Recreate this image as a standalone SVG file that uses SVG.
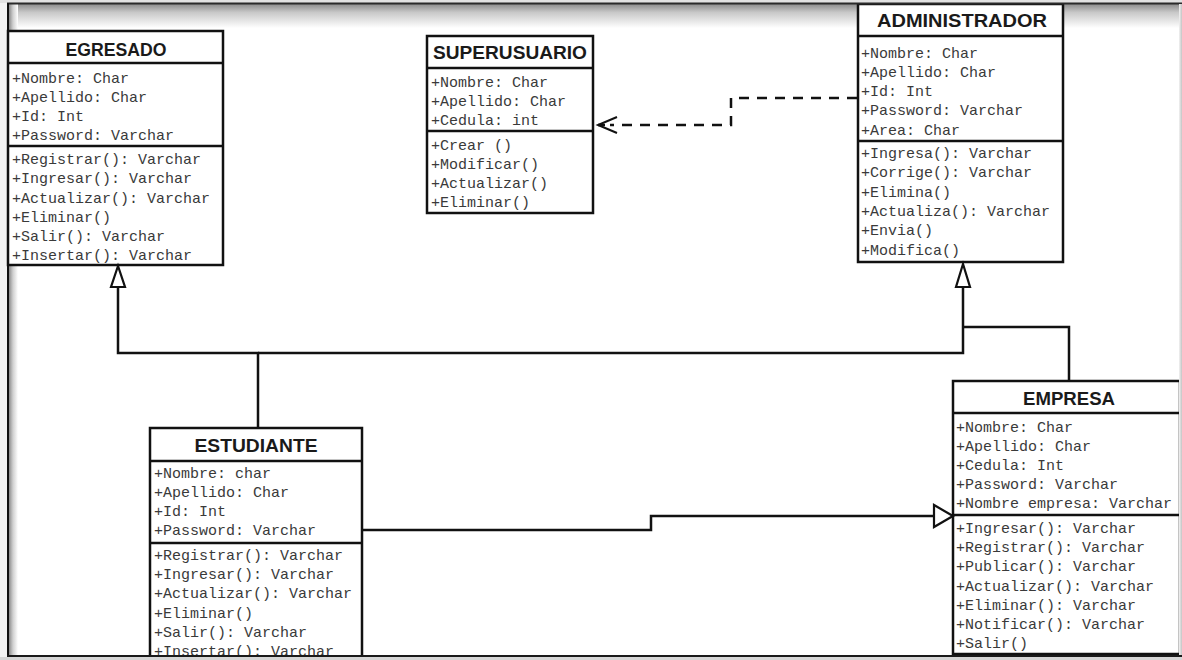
<svg xmlns="http://www.w3.org/2000/svg" width="1182" height="660" viewBox="0 0 1182 660">
  <defs>
    <style>
      .box { fill: #ffffff; stroke: #111111; stroke-width: 2.5; }
      .sep { stroke: #111111; stroke-width: 2.5; }
      .title { font-family: "Liberation Sans", Arial, sans-serif; font-weight: bold; font-size: 18px; fill: #1a1a1a; text-anchor: middle; }
      .m { font-family: "Liberation Mono", "Courier New", monospace; font-size: 15px; fill: #3a3a3a; }
      .line { fill: none; stroke: #111111; stroke-width: 2.5; }
      .dash { stroke-dasharray: 10 8; }
      .tri { fill: #ffffff; stroke: #111111; stroke-width: 2.2; stroke-linejoin: miter; }
    </style>
    <linearGradient id="shadeTop" x1="0" y1="0" x2="0" y2="1">
      <stop offset="0" stop-color="#8c8c8c"/>
      <stop offset="0.35" stop-color="#c8c8c8"/>
      <stop offset="1" stop-color="#ffffff"/>
    </linearGradient>
    <linearGradient id="shadeLeft" x1="0" y1="0" x2="1" y2="0">
      <stop offset="0" stop-color="#7a7a7a"/>
      <stop offset="0.5" stop-color="#d0d0d0"/>
      <stop offset="1" stop-color="#ffffff"/>
    </linearGradient>
    <linearGradient id="shadeRight" x1="0" y1="0" x2="1" y2="0">
      <stop offset="0" stop-color="#f2f2f2"/>
      <stop offset="1" stop-color="#c4c4c4"/>
    </linearGradient>
  </defs>

  <!-- canvas and inner window shading -->
  <rect x="0" y="0" width="1182" height="660" fill="#ffffff"/>
  <rect x="0" y="0" width="8" height="660" fill="#f3f3f3"/>
  <rect x="8" y="4" width="1172" height="24" fill="url(#shadeTop)"/>
  <rect x="8" y="4" width="10" height="652" fill="url(#shadeLeft)"/>

  <!-- class EGRESADO -->
  <g id="egresado">
    <rect class="box" x="8" y="31" width="215" height="234"/>
    <line class="sep" x1="8" y1="63" x2="223" y2="63"/>
    <line class="sep" x1="8" y1="146" x2="223" y2="146"/>
    <text class="title" x="116" y="56" textLength="101" lengthAdjust="spacingAndGlyphs">EGRESADO</text>
    <text class="m" x="12" y="83">+Nombre: Char</text>
    <text class="m" x="12" y="102">+Apellido: Char</text>
    <text class="m" x="12" y="121">+Id: Int</text>
    <text class="m" x="12" y="140">+Password: Varchar</text>
    <text class="m" x="12" y="164">+Registrar(): Varchar</text>
    <text class="m" x="12" y="183">+Ingresar(): Varchar</text>
    <text class="m" x="12" y="202.5">+Actualizar(): Varchar</text>
    <text class="m" x="12" y="221.5">+Eliminar()</text>
    <text class="m" x="12" y="241">+Salir(): Varchar</text>
    <text class="m" x="12" y="260">+Insertar(): Varchar</text>
  </g>

  <!-- class SUPERUSUARIO -->
  <g id="superusuario">
    <rect class="box" x="427" y="36" width="166" height="177"/>
    <line class="sep" x1="427" y1="68" x2="593" y2="68"/>
    <line class="sep" x1="427" y1="131" x2="593" y2="131"/>
    <text class="title" x="510" y="59" textLength="154" lengthAdjust="spacingAndGlyphs">SUPERUSUARIO</text>
    <text class="m" x="431" y="87">+Nombre: Char</text>
    <text class="m" x="431" y="106">+Apellido: Char</text>
    <text class="m" x="431" y="125">+Cedula: int</text>
    <text class="m" x="431" y="150">+Crear ()</text>
    <text class="m" x="431" y="169">+Modificar()</text>
    <text class="m" x="431" y="188">+Actualizar()</text>
    <text class="m" x="431" y="207">+Eliminar()</text>
  </g>

  <!-- class ADMINISTRADOR -->
  <g id="administrador">
    <rect class="box" x="858" y="4" width="205" height="258"/>
    <line class="sep" x1="858" y1="36" x2="1063" y2="36"/>
    <line class="sep" x1="858" y1="141" x2="1063" y2="141"/>
    <text class="title" x="962" y="27" textLength="170" lengthAdjust="spacingAndGlyphs">ADMINISTRADOR</text>
    <text class="m" x="861" y="57.5">+Nombre: Char</text>
    <text class="m" x="861" y="76.5">+Apellido: Char</text>
    <text class="m" x="861" y="96">+Id: Int</text>
    <text class="m" x="861" y="115">+Password: Varchar</text>
    <text class="m" x="861" y="134.5">+Area: Char</text>
    <text class="m" x="861" y="158">+Ingresa(): Varchar</text>
    <text class="m" x="861" y="177">+Corrige(): Varchar</text>
    <text class="m" x="861" y="196.5">+Elimina()</text>
    <text class="m" x="861" y="215.5">+Actualiza(): Varchar</text>
    <text class="m" x="861" y="235">+Envia()</text>
    <text class="m" x="861" y="254.5">+Modifica()</text>
  </g>

  <!-- class ESTUDIANTE (runs past the lower edge of the sheet) -->
  <g id="estudiante">
    <rect class="box" x="150" y="428" width="212" height="250"/>
    <line class="sep" x1="150" y1="461" x2="362" y2="461"/>
    <line class="sep" x1="150" y1="543" x2="362" y2="543"/>
    <text class="title" x="256" y="452" textLength="123" lengthAdjust="spacingAndGlyphs">ESTUDIANTE</text>
    <text class="m" x="154" y="478">+Nombre: char</text>
    <text class="m" x="154" y="497">+Apellido: Char</text>
    <text class="m" x="154" y="516">+Id: Int</text>
    <text class="m" x="154" y="535">+Password: Varchar</text>
    <text class="m" x="154" y="560">+Registrar(): Varchar</text>
    <text class="m" x="154" y="579">+Ingresar(): Varchar</text>
    <text class="m" x="154" y="598">+Actualizar(): Varchar</text>
    <text class="m" x="154" y="617.5">+Eliminar()</text>
    <text class="m" x="154" y="636.5">+Salir(): Varchar</text>
    <text class="m" x="154" y="655.5">+Insertar(): Varchar</text>
  </g>

  <!-- class EMPRESA -->
  <g id="empresa">
    <rect class="box" x="953" y="381" width="227" height="273"/>
    <line class="sep" x1="953" y1="413" x2="1180" y2="413"/>
    <line class="sep" x1="953" y1="515" x2="1180" y2="515"/>
    <text class="title" x="1069" y="405" textLength="92" lengthAdjust="spacingAndGlyphs">EMPRESA</text>
    <text class="m" x="956" y="432">+Nombre: Char</text>
    <text class="m" x="956" y="451">+Apellido: Char</text>
    <text class="m" x="956" y="470">+Cedula: Int</text>
    <text class="m" x="956" y="489">+Password: Varchar</text>
    <text class="m" x="956" y="508">+Nombre empresa: Varchar</text>
    <text class="m" x="956" y="533">+Ingresar(): Varchar</text>
    <text class="m" x="956" y="552">+Registrar(): Varchar</text>
    <text class="m" x="956" y="571">+Publicar(): Varchar</text>
    <text class="m" x="956" y="590.5">+Actualizar(): Varchar</text>
    <text class="m" x="956" y="609.5">+Eliminar(): Varchar</text>
    <text class="m" x="956" y="629">+Notificar(): Varchar</text>
    <text class="m" x="956" y="648">+Salir()</text>
  </g>

  <!-- connectors -->
  <g id="connectors">
    <!-- generalisation: ESTUDIANTE to EGRESADO and ADMINISTRADOR -->
    <path class="line" d="M258,428 V353 H118 V287"/>
    <path class="line" d="M258,353 H963 V287"/>
    <!-- generalisation: EMPRESA joins the ADMINISTRADOR branch -->
    <path class="line" d="M1069,381 V327 H963"/>
    <polygon class="tri" points="118,266 111,287 125,287"/>
    <polygon class="tri" points="963,264 956,287 970,287"/>
    <!-- ESTUDIANTE to EMPRESA -->
    <path class="line" d="M362,530 H651 V516 H934"/>
    <polygon class="tri" points="953,516 934,505 934,527"/>
    <!-- dependency: ADMINISTRADOR uses SUPERUSUARIO -->
    <path class="line dash" d="M857,98 H731 V125 H610"/>
    <path class="line" d="M605,125 H598"/>
    <path fill="none" stroke="#111111" stroke-width="2" d="M617,117 L598,125 L617,133"/>
  </g>

  <!-- sheet border drawn over the content -->
  <rect x="0" y="0" width="1182" height="3" fill="#e2e2e2"/>
  <line x1="7" y1="3.5" x2="1182" y2="3.5" stroke="#2a2a2a" stroke-width="2"/>
  <line x1="8" y1="3" x2="8" y2="657" stroke="#111111" stroke-width="2"/>
  <rect x="1179" y="4" width="3" height="656" fill="url(#shadeRight)"/>
  <line x1="7" y1="656" x2="1182" y2="656" stroke="#1a1a1a" stroke-width="2"/>
  <rect x="0" y="657" width="1182" height="3" fill="#d6d6d6"/>
</svg>
